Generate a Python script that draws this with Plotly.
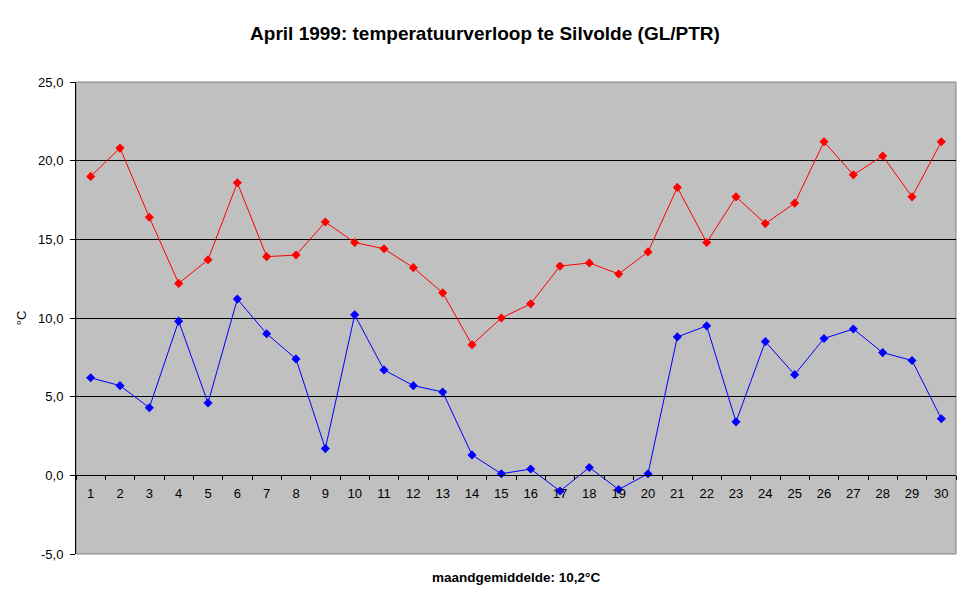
import plotly.graph_objects as go

# april 1999, Silvolde: daily max / min temperature
dagen = [str(d) for d in range(1, 31)]
maxtemp = [19.0, 20.8, 16.4, 12.2, 13.7, 18.6, 13.9, 14.0, 16.1, 14.8,
           14.4, 13.2, 11.6, 8.3, 10.0, 10.9, 13.3, 13.5, 12.8, 14.2,
           18.3, 14.8, 17.7, 16.0, 17.3, 21.2, 19.1, 20.3, 17.7, 21.2]
mintemp = [6.2, 5.7, 4.3, 9.8, 4.6, 11.2, 9.0, 7.4, 1.7, 10.2,
           6.7, 5.7, 5.3, 1.3, 0.1, 0.4, -1.0, 0.5, -0.9, 0.1,
           8.8, 9.5, 3.4, 8.5, 6.4, 8.7, 9.3, 7.8, 7.3, 3.6]
y_ticks = [-5, 0, 5, 10, 15, 20, 25]
y_labels = ["-5,0", "0,0", "5,0", "10,0", "15,0", "20,0", "25,0"]

font = "Arial, Liberation Sans, sans-serif"

fig = go.Figure()
fig.add_trace(go.Scatter(x=dagen, y=maxtemp, mode="lines+markers", name="max",
                         line=dict(color="#ff0000", width=1),
                         marker=dict(symbol="diamond", size=7, color="#ff0000")))
fig.add_trace(go.Scatter(x=dagen, y=mintemp, mode="lines+markers", name="min",
                         line=dict(color="#0000ff", width=1),
                         marker=dict(symbol="diamond", size=7, color="#0000ff")))

# page has an 8px body margin, so everything is shifted up/left by 8
fig.update_layout(
    width=970, height=604,
    margin=dict(l=68, r=22, t=74, b=58, autoexpand=False),
    paper_bgcolor="white",
    plot_bgcolor="#c0c0c0",
    showlegend=False,
    font=dict(family=font, size=13, color="black"),
    title=dict(text="<b>April 1999: temperatuurverloop te Silvolde (GL/PTR)</b>",
               x=477 / 970, xanchor="center", y=1 - 25 / 604, yanchor="middle",
               font=dict(family=font, size=19, color="black")),
)

fig.update_yaxes(
    range=[-5, 25], tickvals=y_ticks, ticktext=y_labels,
    automargin=False,
    showgrid=True, gridcolor="black", gridwidth=1,
    zeroline=True, zerolinecolor="black", zerolinewidth=1,
    showline=True, linecolor="black", linewidth=1,
    ticks="outside", ticklen=5, tickcolor="black",
    ticklabelstandoff=4,
    title=dict(text="°C", standoff=8, font=dict(size=13)),
)

# x axis sits on the 0-line, like the original
fig.update_xaxes(
    type="category", range=[-0.5, 29.5], anchor="free", position=5 / 30,
    automargin=False,
    showgrid=False, showline=True, linecolor="black", linewidth=1,
    ticks="outside", tickson="boundaries", ticklen=4, tickcolor="black",
    ticklabelstandoff=6,
)

# grey frame round the plot area
fig.add_shape(type="rect", xref="paper", yref="paper", x0=0, y0=0, x1=1, y1=1,
              line=dict(color="#808080", width=1), layer="below")

fig.add_annotation(text="<b>maandgemiddelde: 10,2°C</b>", xref="paper", yref="paper",
                   x=0.5, y=-23 / 472, yanchor="middle", showarrow=False,
                   font=dict(family=font, size=13.5, color="black"))

fig.write_html("out.html")
